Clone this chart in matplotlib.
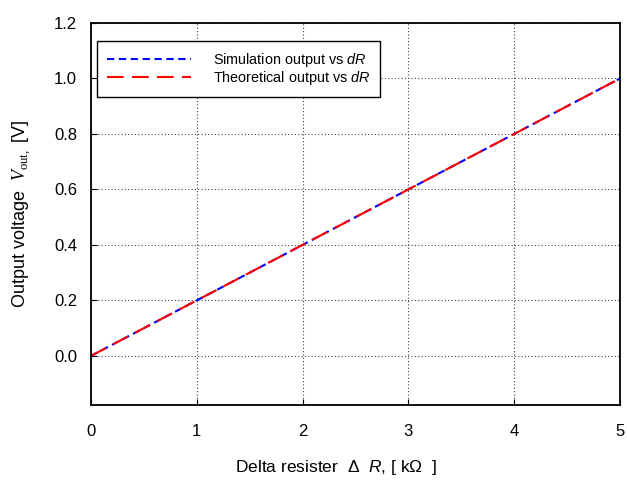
import matplotlib
matplotlib.use("Agg")
import matplotlib.pyplot as plt

plt.rcParams['font.family'] = ['Liberation Sans', 'DejaVu Sans']
plt.rcParams['mathtext.fontset'] = 'custom'
plt.rcParams['mathtext.rm'] = 'Liberation Serif'
plt.rcParams['mathtext.it'] = 'Liberation Sans:italic'
plt.rcParams['mathtext.cal'] = 'Liberation Serif:italic'

dR = [0, 1, 2, 3, 4, 5]
v_sim = [0.0, 0.2, 0.4, 0.6, 0.8, 1.0]
v_theory = [0.0, 0.2, 0.4, 0.6, 0.8, 1.0]
xticks = [0, 1, 2, 3, 4, 5]
yticks = [0.0, 0.2, 0.4, 0.6, 0.8, 1.0, 1.2]

fig = plt.figure(figsize=(6.27, 4.82), dpi=100)
ax = fig.add_axes([0.1451, 0.1598, 0.8437, 0.7925])

ax.plot(dR, v_sim, color='blue', linestyle=(0, (3.5, 2.2)), linewidth=1.5,
        label='Simulation output vs $\\it{dR}$')
ax.plot(dR, v_theory, color='red', linestyle=(0, (8, 4)), linewidth=1.5,
        label='Theoretical output vs $\\it{dR}$')

ax.set_xlim(0, 5)
ax.set_ylim(-0.177, 1.2)
ax.set_xticks(xticks)
ax.set_yticks(yticks)
ax.set_yticklabels([f"{t:.1f}" for t in yticks])
ax.tick_params(axis='both', direction='in', labelsize=12, length=4)
ax.tick_params(axis='x', pad=14)
ax.tick_params(axis='y', pad=10)
ax.grid(True, linestyle=(0, (1, 2)), color='#444444', linewidth=0.8)
for s in ax.spines.values():
    s.set_linewidth(1.3)

ax.set_xlabel('Delta resister  \u0394  $\\it{R}$, [ k\u03a9  ]', fontsize=12.5, labelpad=12)
ax.xaxis.set_label_coords(0.463, -0.138)
ax.set_ylabel('Output voltage  $\\mathcal{V}_{\\mathrm{out,}}$ [V]', fontsize=13, labelpad=15)

leg = ax.legend(loc='upper left', fontsize=10.4, fancybox=False, edgecolor='black',
                framealpha=1, handlelength=5.8, handletextpad=1.55, borderpad=0.68,
                labelspacing=0.03, bbox_to_anchor=(0.0113, 0.953), borderaxespad=0)
leg.get_frame().set_linewidth(1.0)

fig.savefig('out.png', dpi=100)
